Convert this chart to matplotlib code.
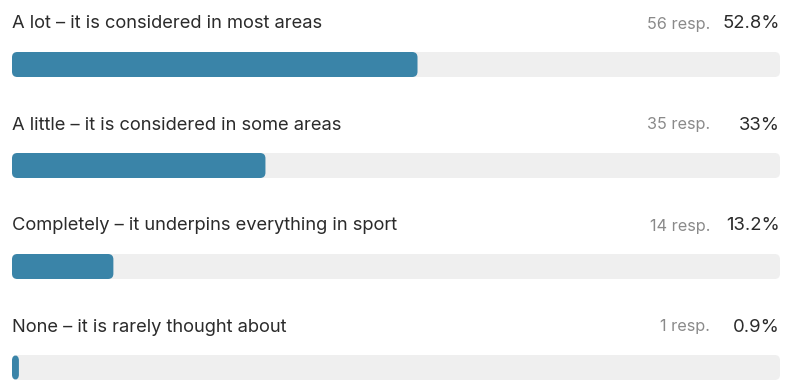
import matplotlib.pyplot as plt
from matplotlib.patches import FancyBboxPatch

# survey answers
labels = [
    "A lot \u2013 it is considered in most areas",
    "A little \u2013 it is considered in some areas",
    "Completely \u2013 it underpins everything in sport",
    "None \u2013 it is rarely thought about",
]
responses = [56, 35, 14, 1]
percents = [52.8, 33, 13.2, 0.9]

W, H = 790, 391
fig = plt.figure(figsize=(W / 100, H / 100), dpi=100)
# axis spans the track area horizontally; x in percent, y in pixels
left, right = 12, 780
ax = fig.add_axes([left / W, 0, (right - left) / W, 1])
ax.set_xlim(0, 100)
ax.set_ylim(H, 0)
ax.axis("off")

px_per_unit = (right - left) / 100
rs = 0.7
row_gap = 101
for i, (lab, n, p) in enumerate(zip(labels, responses, percents)):
    y_text = 24 + i * row_gap
    y_bar = 52 + i * row_gap
    bh = 25
    track = FancyBboxPatch((0, y_bar), 100, bh,
                           boxstyle=f"round,pad=0,rounding_size={rs}",
                           mutation_aspect=px_per_unit,
                           fc="#efefef", ec="none")
    ax.add_patch(track)
    fill = FancyBboxPatch((0, y_bar), max(p, 0.9), bh,
                          boxstyle=f"round,pad=0,rounding_size={rs}",
                          mutation_aspect=px_per_unit,
                          fc="#3a84a8", ec="none")
    ax.add_patch(fill)
    ax.text(0, y_text, lab, ha="left", va="center", fontsize=13.2,
            color="#2b2b2b", family="Inter")
    ax.text(90.9, y_text, f"{n} resp.", ha="right", va="center", fontsize=11.7,
            color="#8a8a8a", family="Inter")
    ax.text(100, y_text, f"{p:g}%", ha="right", va="center", fontsize=13.3,
            color="#2b2b2b", family="Inter")

fig.savefig("out.png", dpi=100)
